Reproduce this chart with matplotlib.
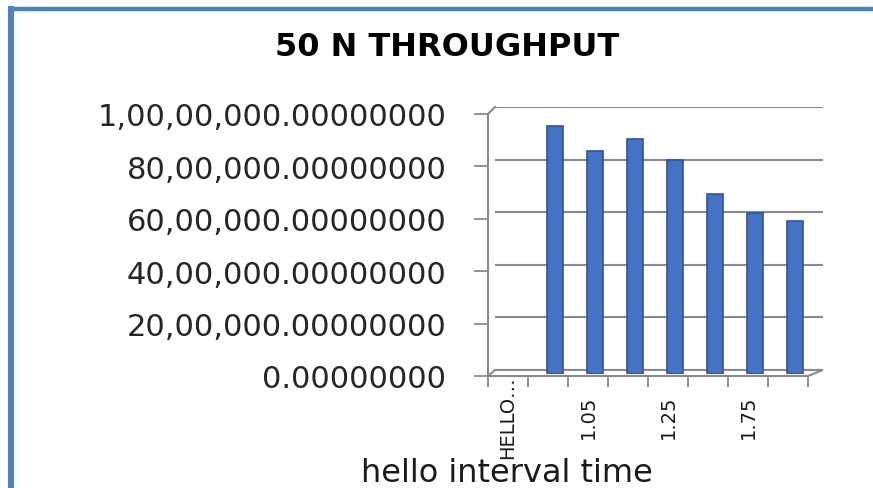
import numpy as np
import matplotlib
matplotlib.use("Agg")
import matplotlib.pyplot as plt
from matplotlib.lines import Line2D
from matplotlib.patches import Polygon

# data (throughput per hello interval)
categories = ["HELLO INTERVAL", "1", "1.05", "1.1", "1.25", "1.5", "1.75", "2"]
tick_labels = ["HELLO\u2026", "1.05", "1.25", "1.75"]
tick_cats = [0, 2, 4, 6]
throughput = [np.nan, 9400000, 8450000, 8900000, 8100000, 6800000, 6100000, 5800000]
yticks = [0, 2000000, 4000000, 6000000, 8000000, 10000000]

W, H = 873, 489
GRAY = "#8a8a8a"
BORDER = "#4f81bd"


def box(left, top, right, bottom):
    # pixel box (image coords) -> figure fraction rect
    return [left / W, 1 - bottom / H, (right - left) / W, (bottom - top) / H]


def indian(v, pos=None):
    s = f"{v:.8f}"
    ip, fp = s.split(".")
    if len(ip) > 3:
        head, tail = ip[:-3], ip[-3:]
        groups = []
        while len(head) > 2:
            groups.insert(0, head[-2:])
            head = head[:-2]
        if head:
            groups.insert(0, head)
        ip = ",".join(groups + [tail])
    return ip + "." + fp


fig = plt.figure(figsize=(W / 100, H / 100), dpi=100)
fig.patch.set_facecolor("white")

n = len(categories)

# back wall with gridlines
axw = fig.add_axes(box(495, 108, 823, 371))
axw.set_xlim(0, n)
axw.set_ylim(0, yticks[-1])
axw.set_yticks(yticks)
axw.set_xticks([])
axw.tick_params(left=False, labelleft=False)
axw.grid(axis="y", color=GRAY, lw=1.5)
for s in axw.spines.values():
    s.set_visible(False)
axw.set_facecolor("none")
axw.set_zorder(0)

# bars
axb = fig.add_axes(box(495, 111, 815, 375))
axb.set_xlim(0, n)
axb.set_ylim(0, yticks[-1])
x = np.arange(n) + 0.5
vals = np.array(throughput, dtype=float)
ok = ~np.isnan(vals)
axb.bar(x[ok], vals[ok], width=0.38, color="#4472c4", edgecolor="#2f5597", lw=1.2)
axb.axis("off")
axb.set_zorder(1)

# front axis (ticks and labels)
ax = fig.add_axes(box(488, 115, 808, 377))
ax.set_xlim(0, n)
ax.set_ylim(0, yticks[-1])
ax.set_facecolor("none")
for name in ["top", "right", "bottom"]:
    ax.spines[name].set_visible(False)
ax.spines["left"].set_color(GRAY)
ax.spines["left"].set_linewidth(1.5)
ax.set_yticks(yticks)
ax.yaxis.set_major_formatter(plt.FuncFormatter(indian))
ax.tick_params(axis="y", length=10, width=1.3, color=GRAY, pad=20,
               labelsize=22, labelcolor="#262626")
ax.set_xticks(np.arange(n + 1))
ax.set_xticklabels([])
ax.set_xticks([c + 0.5 for c in tick_cats], minor=True)
ax.set_xticklabels(tick_labels, minor=True, rotation=90, fontsize=14,
                   color="#1a1a1a", va="center")
ax.tick_params(axis="x", which="major", length=8, width=1.3, color=GRAY)
ax.tick_params(axis="x", which="minor", length=0, pad=29)
ax.set_zorder(2)

# floor and top edge connecting front axis to back wall
fp = ax.get_position()
wp = axw.get_position()
floor = Polygon([(fp.x0, fp.y0), (fp.x1, fp.y0), (wp.x1, wp.y0), (wp.x0, wp.y0)],
                closed=True, facecolor="none", edgecolor=GRAY, lw=1.5,
                transform=fig.transFigure, clip_on=False)
axw.add_patch(floor)
axw.add_line(Line2D([fp.x0, wp.x0], [fp.y1, wp.y1], color=GRAY, lw=1.5,
                    transform=fig.transFigure, clip_on=False))

fig.text(447 / W, 1 - 48 / H, "50 N THROUGHPUT", ha="center", va="center",
         fontsize=23, fontweight="bold", color="black")
fig.text(507 / W, 1 - 482 / H, "hello interval time", ha="center", va="baseline",
         fontsize=23, color="#1a1a1a")

# chart border (only left and top edges are inside the picture)
fig.add_artist(Line2D([11 / W, 11 / W], [0, 1 - 10 / H], color=BORDER, lw=4.3,
                      transform=fig.transFigure))
fig.add_artist(Line2D([11 / W, 1], [1 - 10 / H, 1 - 10 / H], color=BORDER, lw=3.2,
                      transform=fig.transFigure))

fig.savefig("out.png", dpi=100)
